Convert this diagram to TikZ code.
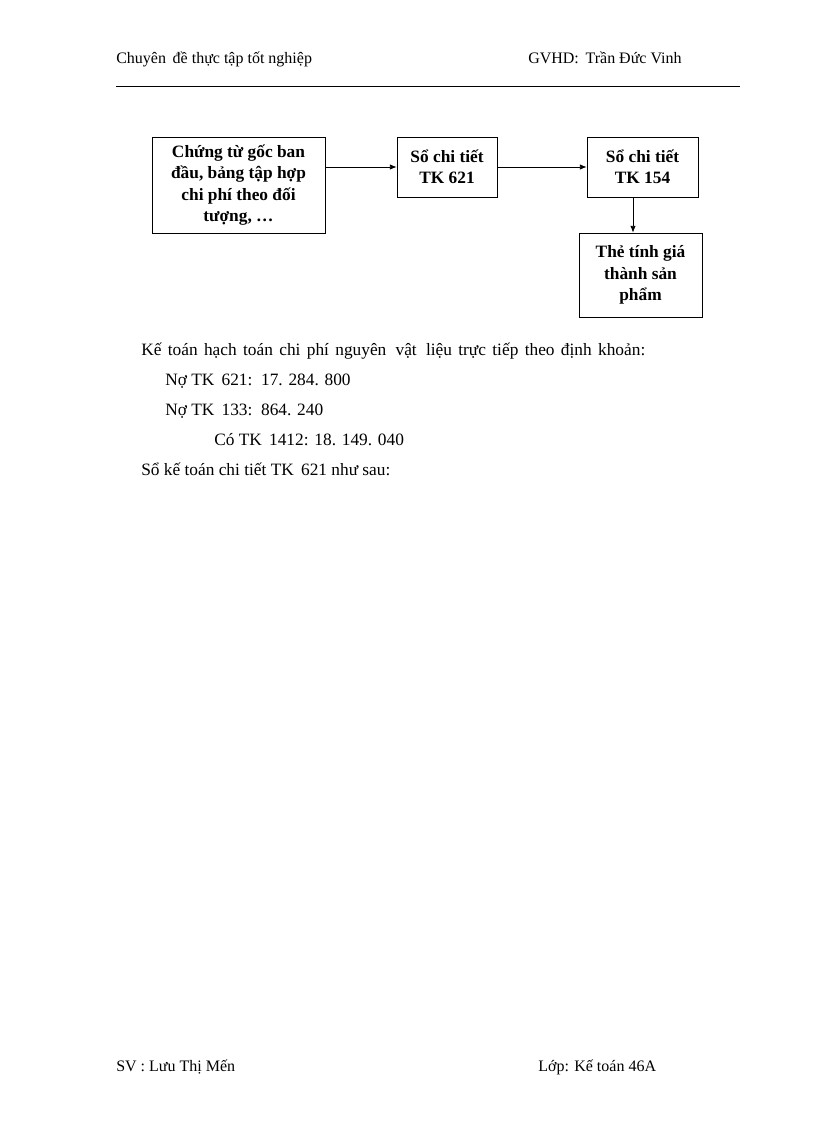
\documentclass[tikz,border=0pt]{standalone}
\usepackage{fontspec}
\setmainfont{Liberation Serif}
\usetikzlibrary{arrows.meta}
\begin{document}
\begin{tikzpicture}[x=0.75pt,y=-0.75pt,
  txt/.style={anchor=base west,inner sep=0pt,font=\fontsize{12}{14}\selectfont},
  body/.style={anchor=base west,inner sep=0pt,font=\fontsize{13}{15}\selectfont},
  box/.style={draw,line width=0.6pt,align=center,inner sep=0pt,font=\bfseries\fontsize{13}{16}\selectfont},
  arr/.style={-{Latex[length=5pt,width=4pt]},line width=0.6pt}]
\useasboundingbox (0,0) rectangle (816,1123);
% header
\node[txt] (h1) at (116,64) {Chuyên\, đề thực tập tốt nghiệp};
\node[txt] (h2) at (528,64) {GVHD:\, Trần Đức Vinh};
\coordinate (l1) at (116,86);
\coordinate (l2) at (740,86);
\draw[line width=0.7pt] (l1) -- (l2);
% boxes
\node[box,minimum width=173*0.75pt,minimum height=96*0.75pt] (b1) at (238.5,185) {\raisebox{-2pt}{}Chứng từ gốc ban\\đầu, bảng tập hợp\\chi phí theo đối\\tượng, \ldots};
\node[box,minimum width=100*0.75pt,minimum height=60*0.75pt] (b2) at (447,167) {Sổ chi tiết\\TK 621};
\node[box,minimum width=111*0.75pt,minimum height=60*0.75pt] (b3) at (642.5,167) {Sổ chi tiết\\TK 154};
\node[box,minimum width=123*0.75pt,minimum height=84*0.75pt] (b4) at (640.5,275) {Thẻ tính giá\\thành sản\\phẩm};
\coordinate (ax) at (633,0);
\draw[arr] (b1.east |- b2.west) -- (b2.west);
\draw[arr] (b2.east) -- (b3.west);
\draw[arr] (b3.south -| ax) -- (b4.north -| ax);
% body
\node[body] (t1) at (141,355) {\makebox[378pt][s]{Kế toán hạch toán chi phí nguyên\, vật\, liệu trực tiếp theo định khoản:}};
\node[body] (t2) at (165,385) {Nợ TK\, 621:\, 17. 284. 800};
\node[body] (t3) at (165,415) {Nợ TK\, 133:\, 864. 240};
\node[body] (t4) at (214,445) {Có TK\, 1412: 18. 149. 040};
\node[body] (t5) at (141,475) {Sổ kế toán chi tiết TK\, 621 như sau:};
% footer
\node[txt] (f1) at (116,1071) {SV : Lưu Thị Mến};
\node[txt] (f2) at (538,1071) {Lớp: Kế toán 46A};
\end{tikzpicture}
\end{document}
